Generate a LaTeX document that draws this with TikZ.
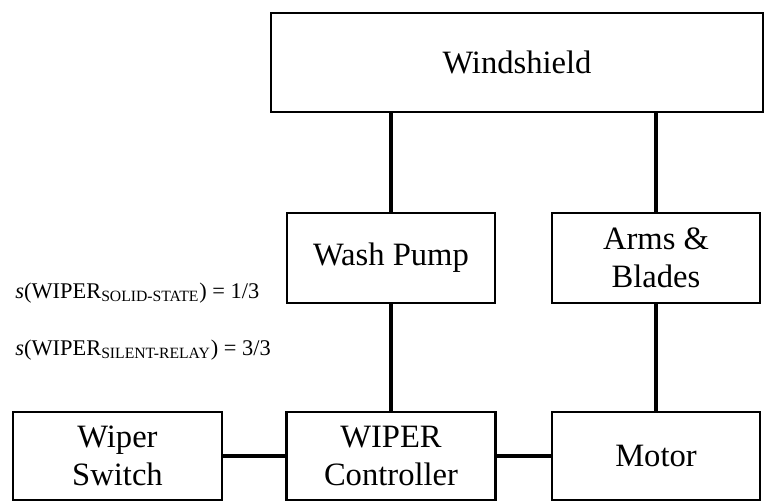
\documentclass[tikz,border=0pt]{standalone}
\usepackage{fontspec}
\setmainfont{Liberation Serif}

\tikzset{
  block/.style={draw, line width=1.3pt, inner sep=0pt, align=center,
    font=\fontsize{16.3}{18.8}\selectfont},
  link/.style={line width=2pt}
}

\begin{document}
\begin{tikzpicture}[x=0.5pt, y=-0.5pt]
\useasboundingbox (0,0) rectangle (765,502);

% top section
\node[block, minimum width=246pt, minimum height=49.5pt] (windshield) at (517,62.5) {Windshield};

% middle section
\node[block, minimum width=104pt, minimum height=45pt] (washpump) at (391,258) {Wash Pump};
\node[block, minimum width=104pt, minimum height=45pt] (armsblades) at (656,258) {Arms \&\\Blades};

% bottom section
\node[block, minimum width=104.5pt, minimum height=44pt] (wiperswitch) at (117.5,456) {Wiper\\Switch};
\node[block, minimum width=104.5pt, minimum height=44pt] (controller) at (391,456) {WIPER\\Controller};
\node[block, minimum width=104pt, minimum height=44pt] (motor) at (656,456) {Motor};

% scores
\node[anchor=base west, inner sep=0pt, font=\fontsize{11.2}{13}\selectfont] (scoresolid) at (15,298)
  {\textit{s}(WIPER\textsubscript{SOLID-STATE}) = 1/3};
\node[anchor=base west, inner sep=0pt, font=\fontsize{11.2}{13}\selectfont] (scoresilent) at (15,355)
  {\textit{s}(WIPER\textsubscript{SILENT-RELAY}) = 3/3};

% connections
\draw[link] (washpump.north) -- (washpump.north |- windshield.south);
\draw[link] (armsblades.north) -- (armsblades.north |- windshield.south);
\draw[link] (washpump.south) -- (controller.north);
\draw[link] (armsblades.south) -- (motor.north);
\draw[link] (wiperswitch.east) -- (controller.west);
\draw[link] (controller.east) -- (motor.west);

\end{tikzpicture}
\end{document}
